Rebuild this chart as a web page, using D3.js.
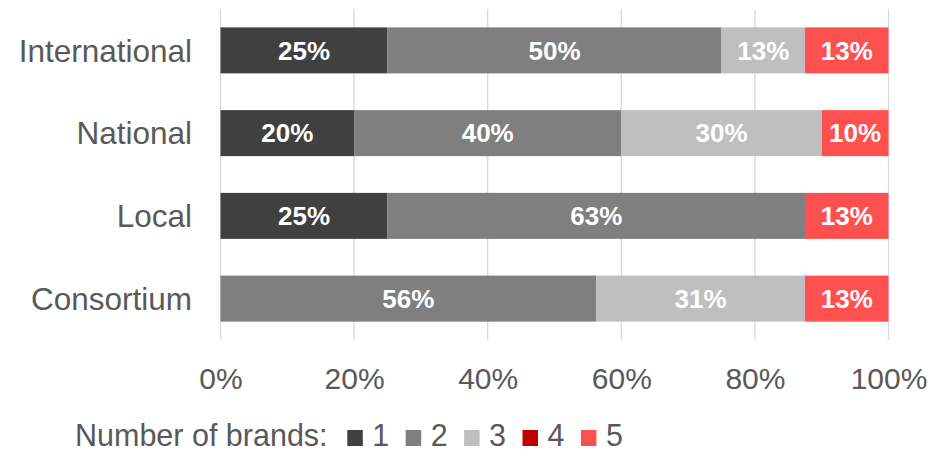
<!DOCTYPE html>
<html>
<head>
<meta charset="utf-8">
<script src="https://cdn.jsdelivr.net/npm/d3@7"></script>
<style>
  html, body { margin: 0; padding: 0; background: #fff; }
  svg { display: block; font-family: "Liberation Sans", Arial, sans-serif; }
</style>
</head>
<body>
<svg id="chart" width="940" height="452"></svg>
<script>
// Share of companies by number of brands, per ownership type (percent)
const categories = ["International", "National", "Local", "Consortium"];
const seriesNames = ["1", "2", "3", "4", "5"];
const brands1 = [25, 20, 25, 0];
const brands2 = [50, 40, 62.5, 56.25];
const brands3 = [12.5, 30, 0, 31.25];
const brands4 = [0, 0, 0, 0];
const brands5 = [12.5, 10, 12.5, 12.5];
const tickValues = [0, 20, 40, 60, 80, 100];
const legendTitle = "Number of brands:";

const colors = ["#404040", "#7f7f7f", "#bfbfbf", "#c00000", "#ff5050"];
const seriesValues = [brands1, brands2, brands3, brands4, brands5];

const rows = categories.map((c, i) => {
  const r = { category: c };
  seriesNames.forEach((s, k) => { r[s] = seriesValues[k][i]; });
  return r;
});
const stacked = d3.stack().keys(seriesNames)(rows);

const svg = d3.select("#chart");
const textColor = "#595959";

const x = d3.scaleLinear().domain([0, 100]).range([220.5, 888.5]);
const y = d3.scaleBand().domain(categories).range([9, 340])
  .paddingInner(0.444).paddingOuter(0.222);

// vertical gridlines
svg.append("g").selectAll("line").data(tickValues).join("line")
  .attr("x1", d => x(d)).attr("x2", d => x(d))
  .attr("y1", 9).attr("y2", 340)
  .attr("stroke", "#d9d9d9").attr("stroke-width", 1.3);

// stacked bars
const layers = svg.append("g").selectAll("g").data(stacked).join("g")
  .attr("fill", (d, i) => colors[i]);
layers.selectAll("rect").data(d => d).join("rect")
  .attr("x", d => x(d[0]))
  .attr("width", d => x(d[1]) - x(d[0]))
  .attr("y", d => y(d.data.category))
  .attr("height", y.bandwidth());

// value labels
layers.selectAll("text").data(d => d.filter(p => p[1] - p[0] > 0)).join("text")
  .attr("x", d => (x(d[0]) + x(d[1])) / 2)
  .attr("y", d => y(d.data.category) + y.bandwidth() / 2 + 9.3)
  .attr("text-anchor", "middle")
  .attr("fill", "#fff")
  .attr("font-weight", "bold")
  .attr("font-size", 26)
  .text(d => Math.round(d[1] - d[0]) + "%");

// category axis labels
svg.append("g").selectAll("text").data(categories).join("text")
  .attr("x", 192)
  .attr("y", d => y(d) + y.bandwidth() / 2 + 11.2)
  .attr("text-anchor", "end")
  .attr("fill", textColor)
  .attr("font-size", 31.5)
  .text(d => d);

// value axis
const xAxis = d3.axisBottom(x).tickValues(tickValues)
  .tickFormat(d => d + "%").tickSize(0).tickPadding(0);
const gx = svg.append("g").attr("transform", "translate(0,368)").call(xAxis);
gx.select(".domain").remove();
gx.selectAll("text")
  .attr("fill", textColor)
  .attr("font-size", 30)
  .attr("font-family", "Liberation Sans, Arial, sans-serif")
  .attr("dy", null)
  .attr("y", 21);

// legend
const legend = svg.append("g");
const legendBase = 446;
legend.append("text")
  .attr("x", 75).attr("y", legendBase)
  .attr("fill", textColor).attr("font-size", 30.5)
  .text(legendTitle);
const items = legend.selectAll("g.item").data(seriesNames).join("g")
  .attr("class", "item")
  .attr("transform", (d, i) => `translate(${347.3 + i * 58.4},0)`);
items.append("rect")
  .attr("x", 0).attr("y", 430).attr("width", 15.5).attr("height", 16)
  .attr("fill", (d, i) => colors[i]);
items.append("text")
  .attr("x", 25).attr("y", legendBase)
  .attr("fill", textColor).attr("font-size", 30.5)
  .text(d => d);
</script>
</body>
</html>
